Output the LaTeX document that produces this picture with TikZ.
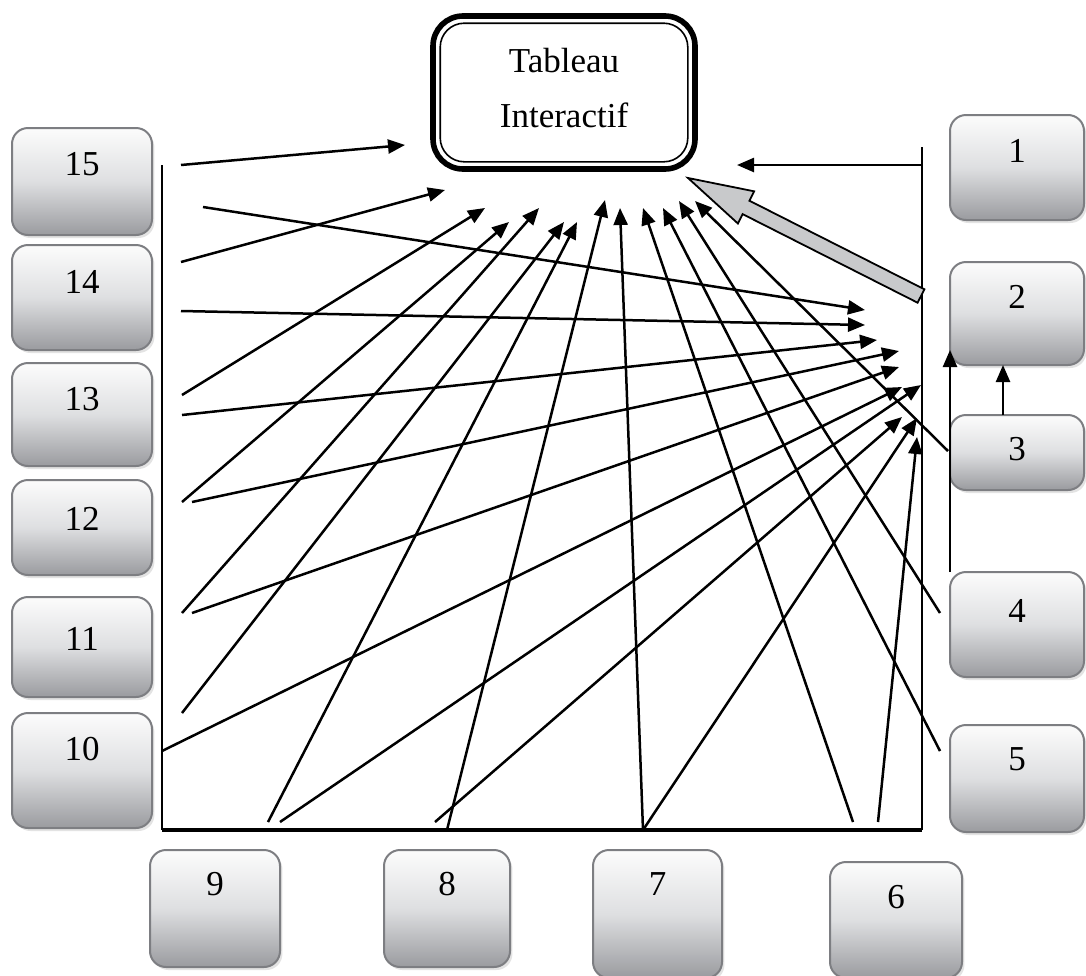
\documentclass[tikz,border=0pt]{standalone}
\usepackage{fontspec}
\setmainfont{Liberation Serif}
\usetikzlibrary{arrows.meta,shadows,fit}
\definecolor{boxtop}{RGB}{252,252,252}
\definecolor{boxmid}{RGB}{222,223,225}
\definecolor{boxbot}{RGB}{154,155,159}
\definecolor{boxedge}{RGB}{125,126,130}
\definecolor{bigarrow}{RGB}{200,201,203}
\begin{document}
\begin{tikzpicture}[x=0.5pt,y=-0.5pt,
  box/.style={rounded corners=8pt, draw=boxedge, line width=1pt,
    top color=boxtop, bottom color=boxbot, middle color=boxmid, inner sep=0pt,
    drop shadow={shadow xshift=1.2pt, shadow yshift=-1.5pt, fill=black!22}},
  lbl/.style={font=\fontsize{17.5}{20}\selectfont, anchor=center, inner sep=0pt},
  con/.style={line width=1.25pt, -{Triangle[length=8.5pt,width=7pt]}},
  framev/.style={line width=0.9pt},
  frameb/.style={line width=1.8pt}]
\useasboundingbox (0,0) rectangle (1086,975);

% central board
\node[draw, line width=2.8pt, rounded corners=15pt, fit={(433,16) (695,169)}, inner sep=0pt] (tab) {};
\draw[line width=0.8pt, rounded corners=12pt] ([shift={(10,10)}]tab.north west) rectangle ([shift={(-10,-10)}]tab.south east);
\node[align=center, font=\fontsize{17.5}{27.5}\selectfont, inner sep=0pt] (tabtxt) at ([yshift=2pt]tab.center) {Tableau\\Interactif};

% left boxes
\node[box, fit={(12,128) (152,235)}, label={[lbl, yshift=-18.5pt]north:15}] (b15) {};
\node[box, fit={(12,245) (152,350)}, label={[lbl, yshift=-19pt]north:14}] (b14) {};
\node[box, fit={(12,363) (152,466)}, label={[lbl, yshift=-18.5pt]north:13}] (b13) {};
\node[box, fit={(12,480) (152,575)}, label={[lbl, yshift=-20pt]north:12}] (b12) {};
\node[box, fit={(12,597) (152,697)}, label={[lbl, yshift=-21.5pt]north:11}] (b11) {};
\node[box, fit={(12,713) (152,828)}, label={[lbl, yshift=-18.5pt]north:10}] (b10) {};
% right boxes
\node[box, fit={(950,115) (1084,220)}, label={[lbl, yshift=-18.5pt]north:1}] (b1) {};
\node[box, fit={(950,262) (1084,365)}, label={[lbl, yshift=-18pt]north:2}] (b2) {};
\node[box, fit={(950,415) (1084,490)}, label={[lbl, yshift=-17.5pt]north:3}] (b3) {};
\node[box, fit={(950,572) (1084,677)}, label={[lbl, yshift=-20pt]north:4}] (b4) {};
\node[box, fit={(950,725) (1084,832)}, label={[lbl, yshift=-17.5pt]north:5}] (b5) {};
% bottom boxes
\node[box, fit={(150,850) (280,967)}, label={[lbl, yshift=-17.5pt]north:9}] (b9) {};
\node[box, fit={(384,850) (510,967)}, label={[lbl, yshift=-17.5pt]north:8}] (b8) {};
\node[box, fit={(593,850) (722,978)}, label={[lbl, yshift=-17.5pt]north:7}] (b7) {};
\node[box, fit={(830,862) (962,978)}, label={[lbl, yshift=-18pt]north:6}] (b6) {};

% frame
\coordinate (fl1) at (162,165);
\coordinate (fl2) at (162,830);
\coordinate (fr1) at (922,147);
\coordinate (fr2) at (922,830);
\draw[framev] (fl1) -- (fl2);
\draw[framev] (fr1) -- (fr2);
\draw[frameb] (fl2) -- (fr2);

% connector end points
\foreach \n/\a/\b in {
  s15/181/165, e15/405/145,
  s14a/203/207, e14a/865/310,
  s14b/181/262, e14b/445/190,
  s14c/181/311, e14c/865/325,
  s13a/182/395, e13a/485/208,
  s13b/182/415, e13b/877/340,
  s12a/182/502, e12a/509/222,
  s12b/192/502, e12b/899/351,
  s11a/182/613, e11a/539/208,
  s11b/192/613, e11b/899/367,
  s11c/182/713, e11c/564/222,
  s10/162/751, e10/902/387,
  s9a/268/822, e9a/577/222,
  s9b/280/822, e9b/921/385,
  s8a/435/822, e8a/902/417,
  s8b/447/830, e8b/605/200,
  s7/643/830, e7a/620/208, e7b/917/418,
  s6a/853/822, e6a/643/208,
  s6b/878/822, e6b/917/437,
  s5/940/751, e5/663/208,
  s4/940/613, e4/679/201,
  s3/948/451, e3/695/201,
  s1/922/165, e1/737/165,
  sv2/950/572, ev2/950/350,
  sv3/1003/415, ev3/1003/365}
  \coordinate (\n) at (\a,\b);

\foreach \s/\e in {s15/e15, s14a/e14a, s14b/e14b, s14c/e14c, s13a/e13a, s13b/e13b,
  s12a/e12a, s12b/e12b, s11a/e11a, s11b/e11b, s11c/e11c, s10/e10, s9a/e9a, s9b/e9b,
  s8a/e8a, s8b/e8b, s7/e7a, s7/e7b, s6a/e6a, s6b/e6b, s5/e5, s4/e4, s3/e3, s1/e1,
  sv2/ev2, sv3/ev3}
  \draw[con] (\s) -- (\e);

% big grey arrow
\draw[fill=bigarrow, line width=0.9pt, line join=miter]
  (924.4,289.3) -- (749.4,200.7) -- (754.1,191.3) -- (688,178) -- (737.9,223.5)
  -- (742.6,214.1) -- (917.6,302.7) -- cycle;
\end{tikzpicture}
\end{document}
